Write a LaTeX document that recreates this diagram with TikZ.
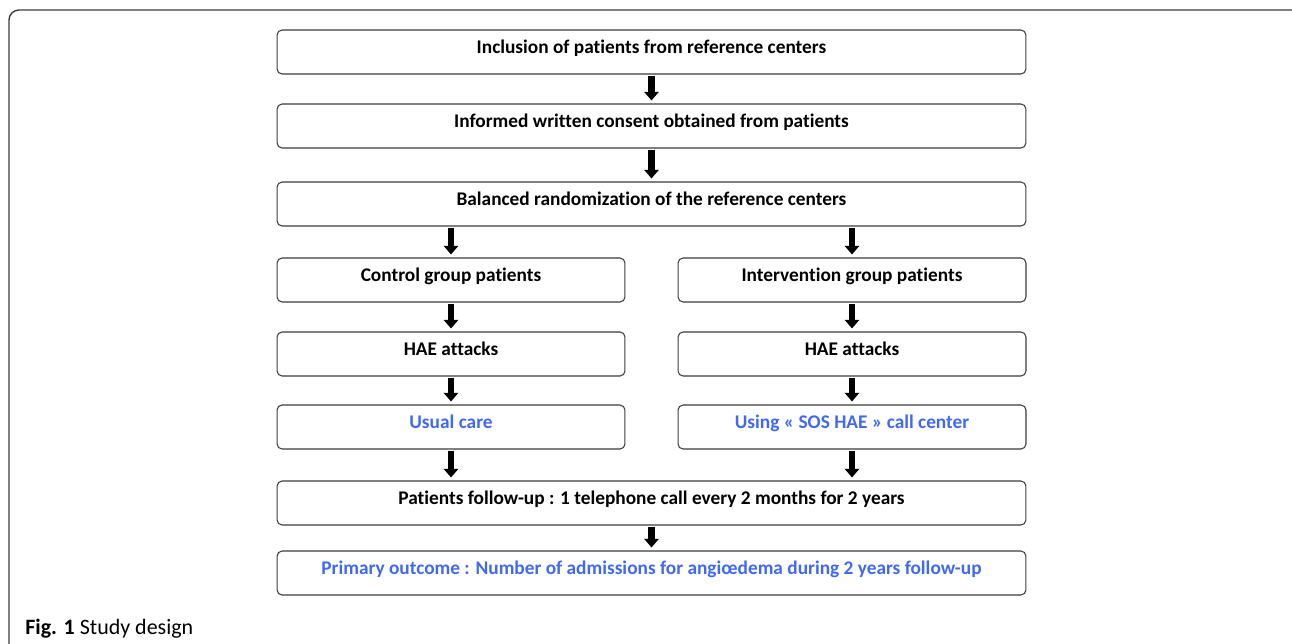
\documentclass[tikz,border=0pt]{standalone}
\usepackage{fontspec}
\setmainfont{Carlito}[Ligatures=NoCommon]
\usepackage{xcolor}
\usetikzlibrary{arrows.meta, positioning}
\definecolor{sosblue}{RGB}{64,105,240}
\definecolor{framegray}{RGB}{60,60,60}
\tikzset{
    box/.style={draw=framegray, line width=0.6pt, rounded corners=0.1cm, minimum height=0.88cm,
        text height=2.5mm, text depth=1.8mm, font=\fontsize{11}{13}\selectfont\bfseries},
    widebox/.style={box, minimum width=14.98cm},
    halfbox/.style={box, minimum width=6.96cm},
    bluetext/.style={text=sosblue},
    flow/.style={line width=0.13cm, -{Triangle[width=0.28cm, length=0.17cm]}, shorten <=0.02cm, shorten >=0.06cm}
}

\begin{document}
\begin{tikzpicture}[x=0.02cm, y=-0.02cm]
    \useasboundingbox (0,0) rectangle (1292,643);
    \clip (0,0) rectangle (1292,643);
    % outer frame
    \draw[framegray, line width=0.8pt, rounded corners=0.2cm] (9,700) -- (9,10) -- (1310,10) -- (1310,700);
    % main column
    \node[widebox] (inclusion) at (651.5,52) {Inclusion of patients from reference centers};
    \node[widebox] (consent) at (651.5,126) {Informed written consent obtained from patients};
    \node[widebox] (random) at (651.5,204) {Balanced randomization of the reference centers};
    % two arms
    \node[halfbox] (control) at (451,280) {Control group patients};
    \node[halfbox] (interv) at (852,280) {Intervention group patients};
    \node[halfbox] (haeL) at (451,354) {HAE attacks};
    \node[halfbox] (haeR) at (852,354) {HAE attacks};
    \node[halfbox, bluetext] (usual) at (451,427) {Usual care};
    \node[halfbox, bluetext] (sos) at (852,427) {Using « SOS HAE » call center};
    % follow-up and outcome
    \node[widebox] (followup) at (651.5,503) {Patients follow-up : 1 telephone call every 2 months for 2 years};
    \node[widebox, bluetext] (outcome) at (651.5,573) {Primary outcome : Number of admissions for angiœdema during 2 years follow-up};
    % arrows
    \draw[flow] (inclusion) -- (consent);
    \draw[flow] (consent) -- (random);
    \draw[flow] (random.south -| control) -- (control);
    \draw[flow] (random.south -| interv) -- (interv);
    \draw[flow] (control) -- (haeL);
    \draw[flow] (interv) -- (haeR);
    \draw[flow] (haeL) -- (usual);
    \draw[flow] (haeR) -- (sos);
    \draw[flow] (usual) -- (followup.north -| usual);
    \draw[flow] (sos) -- (followup.north -| sos);
    \draw[flow] (followup) -- (outcome);
    % caption
    \node[anchor=base west, font=\fontsize{12.5}{15}\selectfont, inner sep=0pt] (caption) at (25,634) {\textbf{Fig. 1} Study design};
\end{tikzpicture}
\end{document}
